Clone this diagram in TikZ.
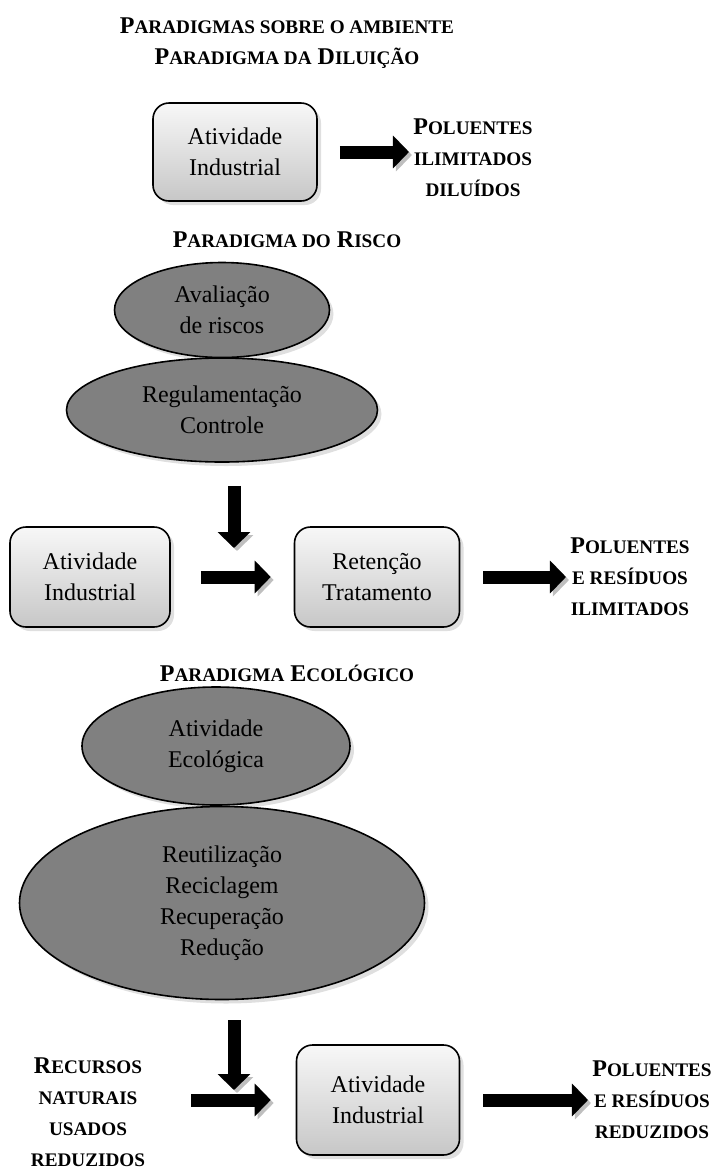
\documentclass[tikz,border=0pt]{standalone}
\usepackage{fontspec}
\setmainfont{Liberation Serif}
\usetikzlibrary{positioning}
\usetikzlibrary{arrows.meta}
\usetikzlibrary{shapes.geometric}
\usetikzlibrary{shadows}

\newcommand{\bodysize}{\fontsize{12}{15.5}\selectfont}
\newcommand{\capsize}[1]{{\fontsize{9.6}{10}\selectfont #1}}

\begin{document}
\begin{tikzpicture}[x=0.5pt,y=-0.5pt,node distance=143.5pt]
		\tikzstyle{every node}=[font=\bodysize]
		\tikzstyle{caixa}=[draw, rounded corners=8pt, line width=0.8pt,
		top color=black!3, bottom color=black!22, align=center,
		minimum width=82pt, minimum height=49pt,
		drop shadow={opacity=0.25,shadow xshift=2pt,shadow yshift=-2pt}]
		\tikzstyle{oval}=[ellipse, draw, line width=0.8pt, fill=black!50,
		align=center, inner sep=0pt,
		drop shadow={opacity=0.25,shadow xshift=2pt,shadow yshift=-2pt}]
		\tikzstyle{rotulo}=[font=\bodysize\bfseries, align=center, inner sep=0pt]
		\tikzstyle{seta}=[line width=6.5pt, -{Triangle[length=8pt,width=16pt]},
		preaction={draw=black!25, transform canvas={shift={(1.5pt,-1.5pt)}}}]
		
		\useasboundingbox (0,0) rectangle (719,1168);
		
		% diluicao
		\node[rotulo]  (titulo)   at (287,43)   {P\capsize{ARADIGMAS SOBRE O AMBIENTE}\\
			P\capsize{ARADIGMA DA} D\capsize{ILUIÇÃO}};
		\node[caixa]   (ativ1)    at (235,152)  {Atividade\\Industrial};
		\node[rotulo]  (pol1)     at (473,158)  {P\capsize{OLUENTES}\\
			\capsize{ILIMITADOS}\\\capsize{DILUÍDOS}};
		
		% risco
		\node[rotulo]  (risco)    at (287,240)  {P\capsize{ARADIGMA DO} R\capsize{ISCO}};
		\node[oval, minimum width=107.5pt, minimum height=47.5pt]
		(aval)     at (222,310)  {Avaliação\\de riscos};
		\node[oval, minimum width=155.5pt, minimum height=52pt]
		(regul)    at (222,410)  {Regulamentação\\Controle};
		\node[caixa, minimum width=80pt, minimum height=50pt]
		(ativ2)    at (90,577)   {Atividade\\Industrial};
		\node[caixa, minimum width=82.5pt, minimum height=50pt]
		(reten)    [right of=ativ2]  {Retenção\\Tratamento};
		\node[rotulo]  (pol2)     [right of=reten, node distance=126.5pt]
		{P\capsize{OLUENTES}\\\capsize{E RESÍDUOS}\\\capsize{ILIMITADOS}};
		\coordinate    (junta1)   at (234,548);
		
		% ecologico
		\node[rotulo]  (eco)      at (287,673)  {P\capsize{ARADIGMA} E\capsize{COLÓGICO}};
		\node[oval, minimum width=134pt, minimum height=59pt]
		(ativeco)  at (216,746)  {Atividade\\Ecológica};
		\node[oval, minimum width=202.5pt, minimum height=96.5pt]
		(reut)     at (222,903)  {Reutilização\\Reciclagem\\Recuperação\\Redução};
		\node[rotulo]  (recur)    at (88,1112)  {R\capsize{ECURSOS}\\\capsize{NATURAIS}\\
			\capsize{USADOS}\\\capsize{REDUZIDOS}};
		\node[caixa, minimum width=81.5pt, minimum height=55pt]
		(ativ3)    at (378,1100) {Atividade\\Industrial};
		\node[rotulo]  (pol3)     [right of=ativ3, node distance=137pt]
		{P\capsize{OLUENTES}\\\capsize{E RESÍDUOS}\\\capsize{REDUZIDOS}};
		\coordinate    (junta2)   at (234,1090);
		
		\draw[seta, shorten <=11pt, shorten >=2pt] (ativ1) -- (pol1.west |- ativ1);
		\draw[seta, shorten <=11.5pt] (junta1 |- regul.south) -- (junta1);
		\draw[seta, shorten <=15pt, shorten >=11.5pt] (ativ2) -- (reten);
		\draw[seta, shorten <=11.5pt, shorten >=2pt] (reten) -- (pol2.west |- reten);
		\draw[seta, shorten <=10pt] (junta2 |- reut.south) -- (junta2);
		\draw[seta, shorten <=23pt, shorten >=12.5pt] (recur.east |- ativ3) -- (ativ3);
		\draw[seta, shorten <=11.5pt, shorten >=2pt] (ativ3) -- (pol3.west |- ativ3);
\end{tikzpicture}
\end{document}
